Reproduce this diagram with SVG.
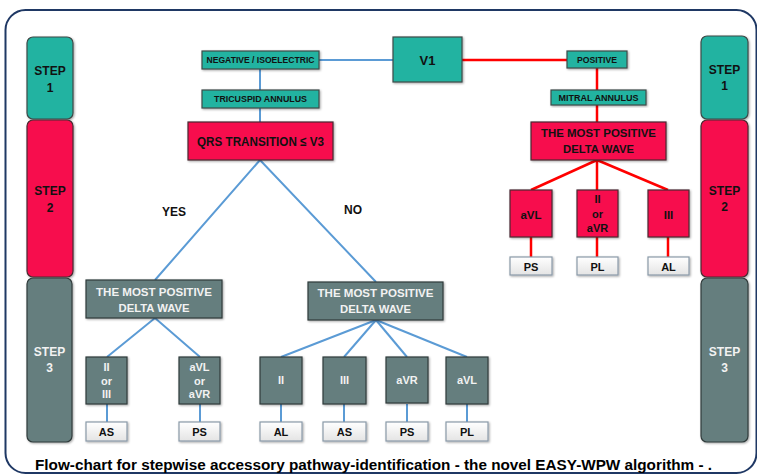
<svg xmlns="http://www.w3.org/2000/svg" width="757" height="475" viewBox="0 0 757 475">
<defs>
<filter id="sh" x="-10%" y="-10%" width="130%" height="130%">
<feDropShadow dx="1" dy="1" stdDeviation="0.8" flood-color="#000" flood-opacity="0.35"/>
</filter>
<linearGradient id="wg" x1="0" y1="0" x2="0" y2="1">
<stop offset="0" stop-color="#ffffff"/>
<stop offset="1" stop-color="#e4e4e4"/>
</linearGradient>
</defs>
<style>
.t{font-family:"Liberation Sans",Arial,sans-serif;font-weight:bold;text-anchor:middle;dominant-baseline:central}
.teal{fill:#22B3A1;stroke:#3d4a48;stroke-width:1.2;filter:url(#sh)}
.red{fill:#F7104E;stroke:#4a2a30;stroke-width:1.2;filter:url(#sh)}
.gray{fill:#657E7E;stroke:#2f3a3a;stroke-width:1.2;filter:url(#sh)}
.leaf{fill:url(#wg);stroke:#8a9aa8;stroke-width:1.2;filter:url(#sh)}
.dk{fill:#111}
.wh{fill:#f2f2f2}
.bl{stroke:#5B9BD5;stroke-width:2;fill:none}
.rd{stroke:#FF0000;stroke-width:2.5;fill:none}
</style>
<rect width="757" height="475" fill="#ffffff"/>
<rect x="5.5" y="10" width="751" height="463" rx="20" fill="none" stroke="#1F3864" stroke-width="2"/>

<g id="connectors">
<line class="bl" x1="319" y1="60" x2="393" y2="60"/>
<line class="bl" x1="260" y1="69" x2="260" y2="90"/>
<line class="bl" x1="260" y1="108" x2="260" y2="122"/>
<polyline class="bl" points="155,280 260,160 376,282"/>
<polyline class="bl" points="107,357 155,318 200,357"/>
<line class="bl" x1="107" y1="404" x2="107" y2="422"/>
<line class="bl" x1="200" y1="404" x2="200" y2="422"/>
<line class="bl" x1="376" y1="320" x2="281" y2="357"/>
<line class="bl" x1="376" y1="320" x2="344" y2="357"/>
<line class="bl" x1="376" y1="320" x2="407" y2="357"/>
<line class="bl" x1="376" y1="320" x2="467" y2="357"/>
<line class="bl" x1="281" y1="404" x2="281" y2="422"/>
<line class="bl" x1="344" y1="404" x2="344" y2="422"/>
<line class="bl" x1="407" y1="404" x2="407" y2="422"/>
<line class="bl" x1="467" y1="404" x2="467" y2="422"/>
<line class="rd" x1="462" y1="60" x2="567" y2="60"/>
<line class="rd" x1="597" y1="68" x2="597" y2="90"/>
<line class="rd" x1="597" y1="105" x2="597" y2="122"/>
<line class="rd" x1="597" y1="160" x2="531" y2="190"/>
<line class="rd" x1="597" y1="160" x2="597" y2="190"/>
<line class="rd" x1="597" y1="160" x2="668" y2="190"/>
<line class="rd" x1="531" y1="237" x2="531" y2="257"/>
<line class="rd" x1="597" y1="237" x2="597" y2="257"/>
<line class="rd" x1="668" y1="237" x2="668" y2="257"/>
</g>

<g id="step1-left"><rect class="teal" x="27" y="37" width="46" height="82" rx="6"/><text class="t dk" x="50" y="71" font-size="12">STEP</text><text class="t dk" x="50" y="88" font-size="12">1</text></g>
<g id="step2-left"><rect class="red" x="27" y="120" width="46" height="157" rx="6"/><text class="t dk" x="50" y="191" font-size="12">STEP</text><text class="t dk" x="50" y="208" font-size="12">2</text></g>
<g id="step3-left"><rect class="gray" x="27" y="278" width="45" height="164" rx="6"/><text class="t wh" x="49.5" y="352" font-size="12">STEP</text><text class="t wh" x="49.5" y="368" font-size="12">3</text></g>
<g id="step1-right"><rect class="teal" x="701" y="36" width="47" height="83" rx="6"/><text class="t dk" x="724.5" y="70" font-size="12">STEP</text><text class="t dk" x="724.5" y="86" font-size="12">1</text></g>
<g id="step2-right"><rect class="red" x="701" y="120" width="47" height="157" rx="6"/><text class="t dk" x="724.5" y="191" font-size="12">STEP</text><text class="t dk" x="724.5" y="207" font-size="12">2</text></g>
<g id="step3-right"><rect class="gray" x="701" y="278" width="47" height="164" rx="6"/><text class="t wh" x="724.5" y="352" font-size="12">STEP</text><text class="t wh" x="724.5" y="368" font-size="12">3</text></g>

<g id="v1"><rect class="teal" x="393" y="37" width="69" height="45"/><text class="t dk" x="427.5" y="60" font-size="13">V1</text></g>
<g id="negative"><rect class="teal" x="202" y="51" width="117" height="18"/><text class="t dk" x="260.5" y="60" font-size="8.5" textLength="108" lengthAdjust="spacingAndGlyphs">NEGATIVE / ISOELECTRIC</text></g>
<g id="tricuspid"><rect class="teal" x="202" y="90" width="117" height="18"/><text class="t dk" x="260.5" y="99" font-size="8.5" textLength="93" lengthAdjust="spacingAndGlyphs">TRICUSPID ANNULUS</text></g>
<g id="positive"><rect class="teal" x="567" y="51" width="60" height="17"/><text class="t dk" x="597" y="59.5" font-size="8.5" textLength="40" lengthAdjust="spacingAndGlyphs">POSITIVE</text></g>
<g id="mitral"><rect class="teal" x="551" y="90" width="95" height="15"/><text class="t dk" x="598.5" y="97.5" font-size="8.5" textLength="80" lengthAdjust="spacingAndGlyphs">MITRAL ANNULUS</text></g>
<g id="qrs"><rect class="red" x="188" y="122" width="145" height="38"/><text class="t dk" x="260.5" y="141" font-size="13.5" textLength="127" lengthAdjust="spacingAndGlyphs">QRS TRANSITION ≤ V3</text></g>
<g id="delta-red"><rect class="red" x="531" y="122" width="135" height="38"/><text class="t dk" x="598.5" y="133" font-size="11.5" textLength="115" lengthAdjust="spacingAndGlyphs">THE MOST POSITIVE</text><text class="t dk" x="598.5" y="149" font-size="11.5" textLength="71" lengthAdjust="spacingAndGlyphs">DELTA WAVE</text></g>

<text class="t dk" x="174" y="212" font-size="12">YES</text>
<text class="t dk" x="353" y="210" font-size="12">NO</text>

<g id="red-avl"><rect class="red" x="510" y="190" width="42" height="47"/><text class="t dk" x="531" y="215" font-size="11.5">aVL</text></g>
<g id="red-ii-avr"><rect class="red" x="577" y="190" width="41" height="47"/><text class="t dk" x="597.5" y="199" font-size="11">II</text><text class="t dk" x="597.5" y="214" font-size="11">or</text><text class="t dk" x="597.5" y="228" font-size="11">aVR</text></g>
<g id="red-iii"><rect class="red" x="648" y="190" width="41" height="47"/><text class="t dk" x="668.5" y="215" font-size="11.5">III</text></g>
<g id="leaf-ps-r"><rect class="leaf" x="510" y="257" width="42" height="18"/><text class="t dk" x="531" y="266.5" font-size="11">PS</text></g>
<g id="leaf-pl-r"><rect class="leaf" x="577" y="257" width="41" height="18"/><text class="t dk" x="597.5" y="266.5" font-size="11">PL</text></g>
<g id="leaf-al-r"><rect class="leaf" x="648" y="257" width="41" height="18"/><text class="t dk" x="668.5" y="266.5" font-size="11">AL</text></g>

<g id="delta-gray-left"><rect class="gray" x="86" y="280" width="136" height="38"/><text class="t wh" x="154" y="292" font-size="11.5" textLength="116" lengthAdjust="spacingAndGlyphs">THE MOST POSITIVE</text><text class="t wh" x="154" y="308" font-size="11.5" textLength="71" lengthAdjust="spacingAndGlyphs">DELTA WAVE</text></g>
<g id="delta-gray-right"><rect class="gray" x="308" y="282" width="135" height="38"/><text class="t wh" x="375.5" y="293" font-size="11.5" textLength="116" lengthAdjust="spacingAndGlyphs">THE MOST POSITIVE</text><text class="t wh" x="375.5" y="309" font-size="11.5" textLength="71" lengthAdjust="spacingAndGlyphs">DELTA WAVE</text></g>

<g id="g-ii-iii"><rect class="gray" x="86" y="357" width="41" height="47"/><text class="t wh" x="106.5" y="367" font-size="11">II</text><text class="t wh" x="106.5" y="381" font-size="11">or</text><text class="t wh" x="106.5" y="394" font-size="11">III</text></g>
<g id="g-avl-avr"><rect class="gray" x="179" y="357" width="41" height="47"/><text class="t wh" x="199.5" y="367" font-size="11">aVL</text><text class="t wh" x="199.5" y="381" font-size="11">or</text><text class="t wh" x="199.5" y="394" font-size="11">aVR</text></g>
<g id="g-ii"><rect class="gray" x="260" y="357" width="42" height="47"/><text class="t wh" x="281" y="380" font-size="11">II</text></g>
<g id="g-iii"><rect class="gray" x="323" y="357" width="43" height="47"/><text class="t wh" x="344.5" y="380" font-size="11">III</text></g>
<g id="g-avr"><rect class="gray" x="386" y="357" width="42" height="46"/><text class="t wh" x="407" y="380" font-size="11">aVR</text></g>
<g id="g-avl"><rect class="gray" x="446" y="357" width="42" height="47"/><text class="t wh" x="467" y="380" font-size="11">aVL</text></g>

<g id="leaf-as-1"><rect class="leaf" x="86" y="422" width="41" height="19"/><text class="t dk" x="106.5" y="432" font-size="11">AS</text></g>
<g id="leaf-ps-1"><rect class="leaf" x="179" y="422" width="41" height="19"/><text class="t dk" x="199.5" y="432" font-size="11">PS</text></g>
<g id="leaf-al-2"><rect class="leaf" x="260" y="422" width="42" height="19"/><text class="t dk" x="281" y="432" font-size="11">AL</text></g>
<g id="leaf-as-2"><rect class="leaf" x="323" y="422" width="43" height="19"/><text class="t dk" x="344.5" y="432" font-size="11">AS</text></g>
<g id="leaf-ps-2"><rect class="leaf" x="386" y="422" width="42" height="19"/><text class="t dk" x="407" y="432" font-size="11">PS</text></g>
<g id="leaf-pl-2"><rect class="leaf" x="446" y="422" width="42" height="19"/><text class="t dk" x="467" y="432" font-size="11">PL</text></g>

<text x="35" y="470" font-family="Liberation Sans,Arial,sans-serif" font-weight="bold" font-size="14.5" fill="#000" textLength="677" lengthAdjust="spacingAndGlyphs">Flow-chart for stepwise accessory pathway-identification - the novel EASY-WPW algorithm - .</text>
</svg>
